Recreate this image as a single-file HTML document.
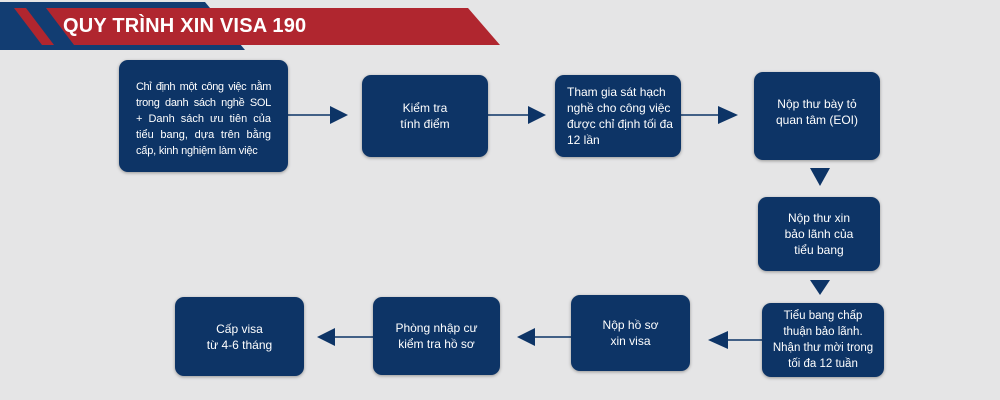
<!DOCTYPE html>
<html><head><meta charset="utf-8"><style>
body{margin:0;width:1000px;height:400px;overflow:hidden;background:#e5e5e6;font-family:"Liberation Sans",sans-serif;}
.b{position:absolute;background:#0d3466;border-radius:9px;color:#fff;font-size:12px;line-height:16px;display:flex;align-items:center;justify-content:center;text-align:center;box-shadow:0 1px 3px rgba(0,0,0,.35);box-sizing:border-box;}
svg{position:absolute;left:0;top:0}
.t{position:absolute;left:63px;top:15px;color:#fff;font-weight:bold;font-size:20px;letter-spacing:0.2px}
.j{display:block;text-align:justify;text-align-last:justify;white-space:nowrap}
</style></head><body>
<svg width="1000" height="400">
<polygon points="0,2 205,2 245,50 0,50" fill="#123d72"/>
<polygon points="14,8 26,8 54,45 42,45" fill="#b0262f"/>
<polygon points="46,8 468,8 500,45 74,45" fill="#b0262f"/>
<g stroke="#0d3466" stroke-width="1.5" fill="#0d3466">
<line x1="288" y1="115" x2="332" y2="115"/><polygon points="330,106 348,115 330,124" stroke="none"/>
<line x1="488" y1="115" x2="530" y2="115"/><polygon points="528,106 546,115 528,124" stroke="none"/>
<line x1="681" y1="115" x2="720" y2="115"/><polygon points="718,106 738,115 718,124" stroke="none"/>
<polygon points="810,168 830,168 820,186" stroke="none"/>
<polygon points="810,280 830,280 820,295" stroke="none"/>
<line x1="726" y1="340" x2="762" y2="340"/><polygon points="728,331 708,340 728,349" stroke="none"/>
<line x1="533" y1="337" x2="571" y2="337"/><polygon points="535,328 517,337 535,346" stroke="none"/>
<line x1="333" y1="337" x2="373" y2="337"/><polygon points="335,328 317,337 335,346" stroke="none"/>
</g>
</svg>
<div class="t">QUY TRÌNH XIN VISA 190</div>
<div class="b" style="left:119px;top:60px;width:169px;height:112px;display:block;padding:19px 17px 0 17px;font-size:11px;">
<span class="j" style="letter-spacing:-0.4px">Chỉ định một công việc nằm</span>
<span class="j" style="letter-spacing:-0.3px">trong danh sách nghề SOL</span>
<span class="j">+ Danh sách ưu tiên của</span>
<span class="j">tiểu bang, dựa trên bằng</span>
<span style="display:block;text-align:left;letter-spacing:-0.2px">cấp, kinh nghiệm làm việc</span></div>
<div class="b" style="left:362px;top:75px;width:126px;height:82px;">Kiểm tra<br>tính điểm</div>
<div class="b" style="left:555px;top:75px;width:126px;height:82px;text-align:left;justify-content:flex-start;padding-left:12px;">Tham gia sát hạch<br>nghề cho công việc<br>được chỉ định tối đa<br>12 lần</div>
<div class="b" style="left:754px;top:72px;width:126px;height:88px;align-items:flex-start;padding-top:24px;">Nộp thư bày tỏ<br>quan tâm (EOI)</div>
<div class="b" style="left:758px;top:197px;width:122px;height:74px;">Nộp thư  xin<br>bảo lãnh của<br>tiểu bang</div>
<div class="b" style="left:762px;top:303px;width:122px;height:74px;font-size:11.5px;">Tiểu bang chấp<br>thuận bảo lãnh.<br>Nhận thư mời trong<br>tối đa 12 tuần</div>
<div class="b" style="left:571px;top:295px;width:119px;height:76px;">Nộp hồ sơ<br>xin visa</div>
<div class="b" style="left:373px;top:297px;width:127px;height:78px;">Phòng nhập cư<br>kiểm tra hồ sơ</div>
<div class="b" style="left:175px;top:297px;width:129px;height:79px;">Cấp visa<br>từ 4-6 tháng</div>
</body></html>
